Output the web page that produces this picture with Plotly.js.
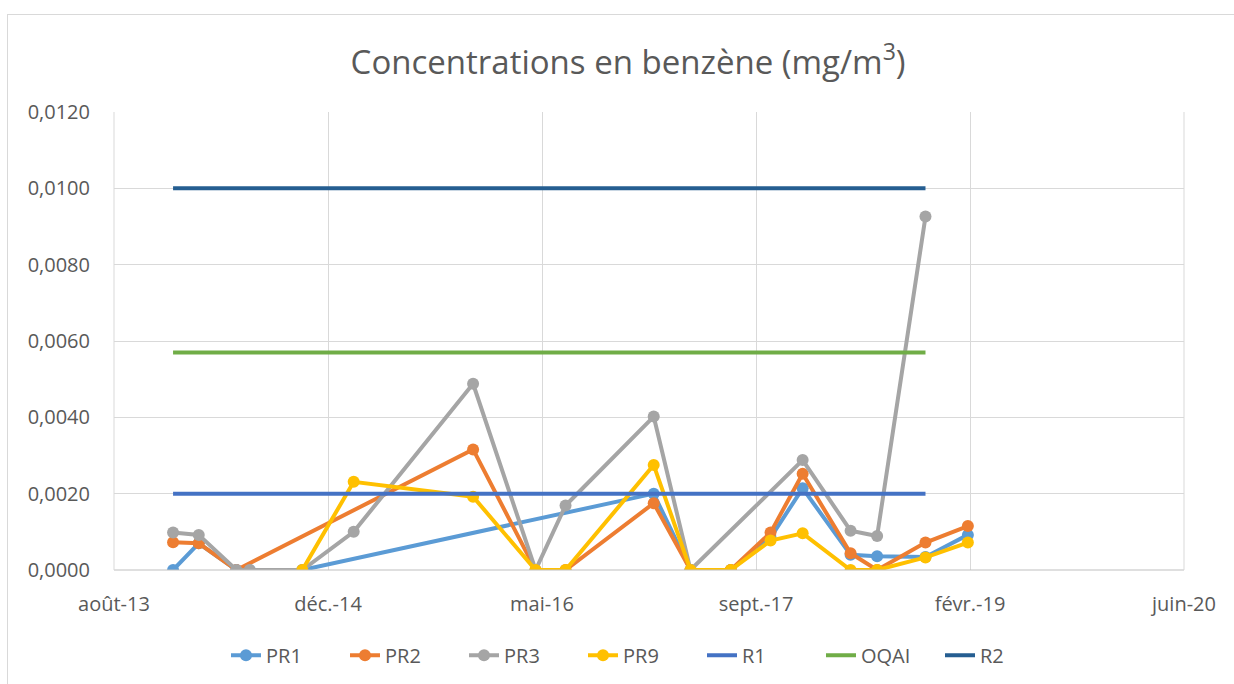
<!DOCTYPE html>
<html>
<head>
<meta charset="utf-8">
<script src="https://cdn.plot.ly/plotly-3.0.1.min.js"></script>
<style>
  html, body { margin: 0; padding: 0; background: #ffffff; overflow: hidden; }
  #wrap { position: relative; width: 1234px; height: 684px; }
  #chart { position: absolute; left: 0; top: 0; width: 1234px; height: 684px; }
  #frame { position: absolute; left: 7px; top: 14px; width: 1240px; height: 700px;
           border: 1px solid #d9d9d9; pointer-events: none; }
</style>
</head>
<body>
<div id="wrap">
  <div id="chart"></div>
  <div id="frame"></div>
</div>
<script>
// Sampling dates
const dates = [
  "2013-12-30", "2014-02-28", "2014-05-27", "2014-06-27", "2014-10-28",
  "2015-02-25", "2015-12-01", "2016-04-25", "2016-07-04", "2017-01-26",
  "2017-04-22", "2017-07-25", "2017-10-26", "2018-01-09", "2018-05-01",
  "2018-07-02", "2018-10-23", "2019-01-30"
];
// Benzene concentrations (mg/m3)
const PR1 = [0, 0.0007, 0, 0, 0, null, null, null, null, 0.0020, 0, 0, 0.00085, 0.00214, 0.0004, 0.00036, 0.00034, 0.00092];
const PR2 = [0.00073, 0.0007, 0, null, null, null, 0.00316, 0, 0, 0.00175, 0, 0, 0.00098, 0.00252, 0.00044, 0, 0.00072, 0.00115];
const PR3 = [0.00098, 0.00092, 0, 0, 0, 0.0010, 0.00488, 0, 0.00169, 0.00402, 0, null, null, 0.00288, 0.00103, 0.00089, 0.00926, null];
const PR9 = [null, null, null, null, 0, 0.00231, 0.00192, 0, 0, 0.00275, 0, 0, 0.00077, 0.00096, 0, 0, 0.00033, 0.00072];
// Reference values
const refDates = ["2013-12-30", "2018-10-23"];
const R1 = [0.002, 0.002];
const OQAI = [0.0057, 0.0057];
const R2 = [0.010, 0.010];
// Axis ticks
const xTickVals = ["2013-08-14", "2014-12-27", "2016-05-10", "2017-09-22", "2019-02-04", "2020-06-18"];
const xTickText = ["août-13", "déc.-14", "mai-16", "sept.-17", "févr.-19", "juin-20"];
const yTickVals = [0, 0.002, 0.004, 0.006, 0.008, 0.010, 0.012];
const yTickText = ["0,0000", "0,0020", "0,0040", "0,0060", "0,0080", "0,0100", "0,0120"];

const font = "'Open Sans', 'Noto Sans', sans-serif";
function pr(name, y, color) {
  return {
    type: "scatter", mode: "lines+markers", name: name, x: dates, y: y,
    connectgaps: true,
    line: { color: color, width: 4 },
    marker: { color: color, size: 12, symbol: "circle" }
  };
}
function ref(name, y, color) {
  return {
    type: "scatter", mode: "lines", name: name, x: refDates, y: y,
    line: { color: color, width: 4 }
  };
}
const data = [
  pr("PR1", PR1, "#5B9BD5"),
  pr("PR2", PR2, "#ED7D31"),
  pr("PR3", PR3, "#A5A5A5"),
  pr("PR9", PR9, "#FFC000"),
  ref("R1", R1, "#4472C4"),
  ref("OQAI", OQAI, "#70AD47"),
  ref("R2", R2, "#255E91")
];
const layout = {
  width: 1234, height: 684,
  margin: { l: 114, r: 50, t: 112, b: 114 },
  paper_bgcolor: "rgba(0,0,0,0)",
  plot_bgcolor: "#ffffff",
  font: { family: font, color: "#595959", size: 20 },
  title: {
    text: "Concentrations en benzène (mg/m<sup>3</sup>)",
    font: { family: font, size: 33, color: "#595959" },
    xref: "container", x: 0.509, xanchor: "center",
    yref: "container", y: 0.909, yanchor: "middle"
  },
  xaxis: {
    type: "date",
    range: ["2013-08-14", "2020-06-18"],
    tickmode: "array", tickvals: xTickVals, ticktext: xTickText,
    showgrid: true, gridcolor: "#d9d9d9", gridwidth: 1,
    showline: false, zeroline: false, ticks: "",
    tickfont: { family: font, size: 20, color: "#595959" },
    ticklabelstandoff: 20
  },
  yaxis: {
    range: [0, 0.012],
    tickmode: "array", tickvals: yTickVals, ticktext: yTickText,
    showgrid: true, gridcolor: "#d9d9d9", gridwidth: 1,
    showline: false, zeroline: false, ticks: "",
    tickfont: { family: font, size: 20, color: "#595959" },
    ticklabelstandoff: 23
  },
  showlegend: true,
  legend: {
    orientation: "h",
    xref: "container", x: 226 / 1234, xanchor: "left",
    yref: "container", y: 0.042, yanchor: "middle",
    font: { family: font, size: 20, color: "#595959" },
    entrywidth: 74, entrywidthmode: "pixels",
    bgcolor: "rgba(0,0,0,0)"
  },
  shapes: [
    { type: "line", xref: "paper", yref: "paper", x0: 0, x1: 1, y0: 0, y1: 0,
      line: { color: "#bfbfbf", width: 1 } },
    { type: "line", xref: "paper", yref: "paper", x0: 0, x1: 0, y0: 0, y1: 1,
      line: { color: "#d9d9d9", width: 1 } },
    { type: "line", xref: "paper", yref: "paper", x0: 1, x1: 1, y0: 0, y1: 1,
      line: { color: "#d9d9d9", width: 1 } }
  ]
};
Plotly.newPlot("chart", data, layout, { displayModeBar: false, staticPlot: true });
</script>
</body>
</html>
